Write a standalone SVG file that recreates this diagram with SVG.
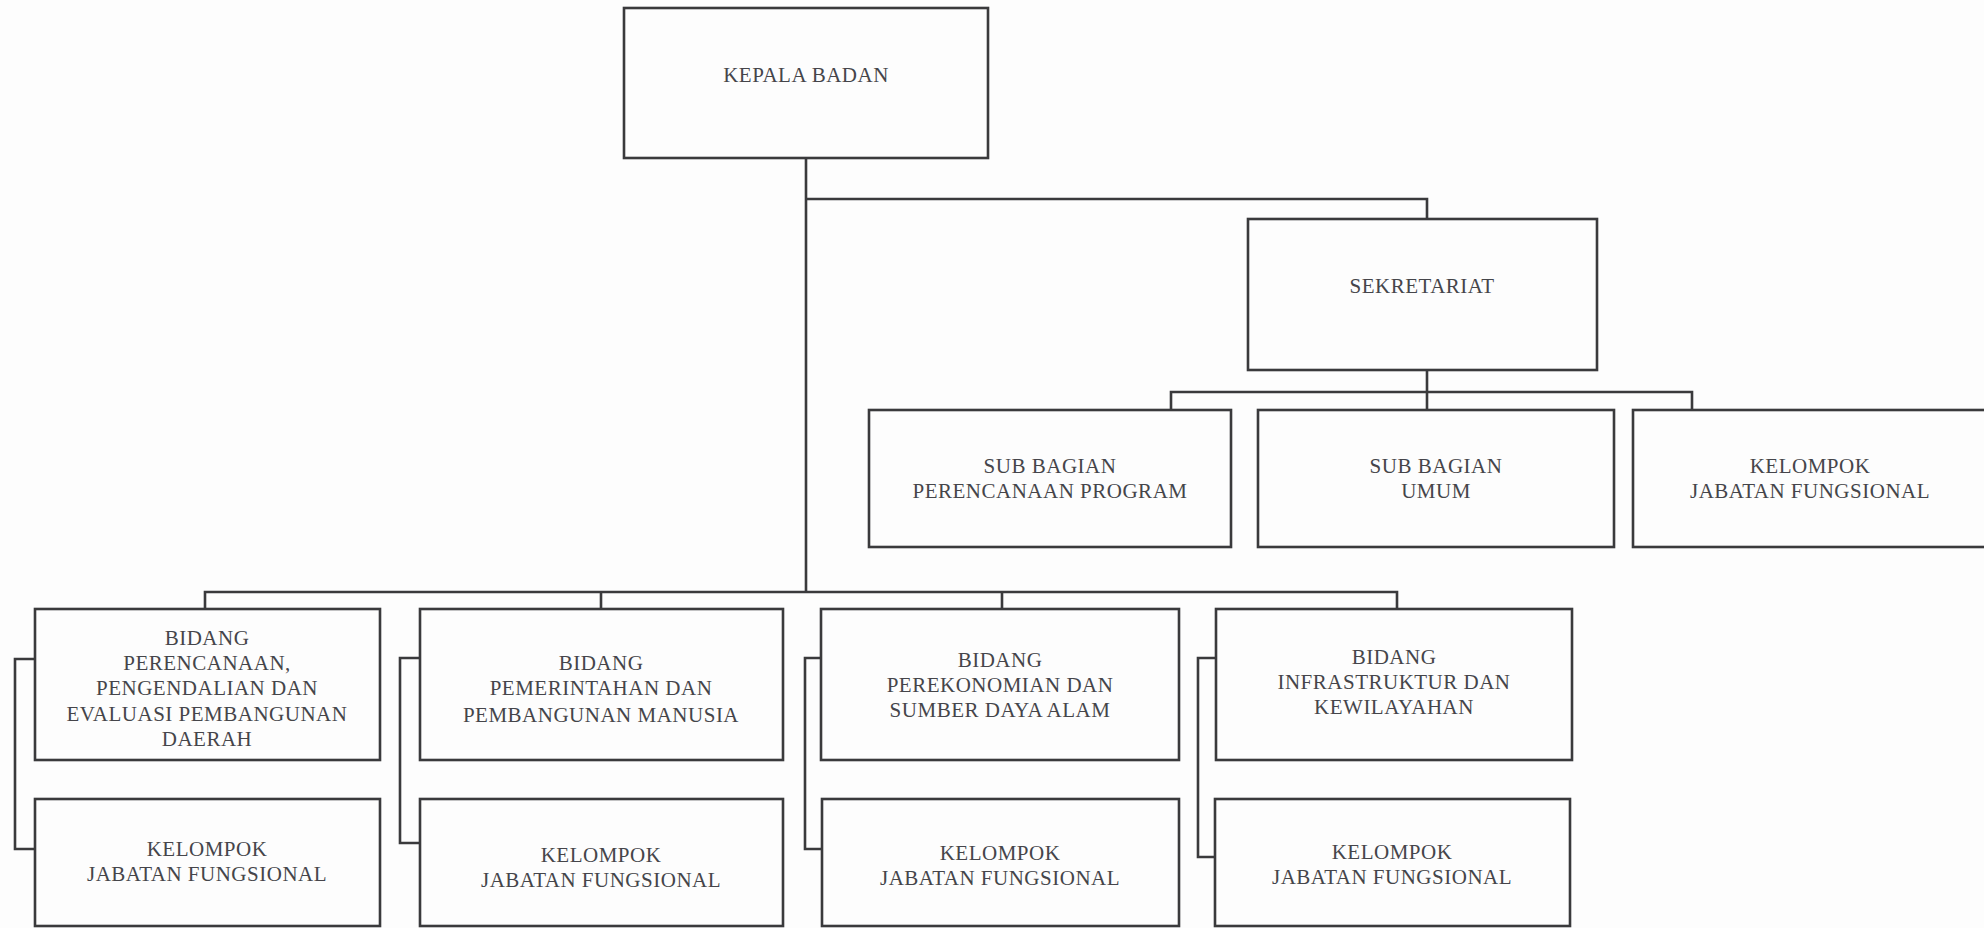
<svg xmlns="http://www.w3.org/2000/svg" width="1984" height="928" viewBox="0 0 1984 928">
<style>
.box{fill:none;stroke:#3a3a3c;stroke-width:2.6}
.ln{fill:none;stroke:#3a3a3c;stroke-width:2.6}
.t{font-family:"Liberation Serif","Times New Roman",serif;font-size:21px;letter-spacing:0.5px;fill:#45454a;text-anchor:middle}
</style>
<rect width="1984" height="928" fill="#fdfdfd"/>
<g id="connectors">
<path class="ln" d="M806 158 V592"/>
<path class="ln" d="M806 199 H1427 V219"/>
<path class="ln" d="M1427 370 V410 M1171 410 V392 H1692 V410"/>
<path class="ln" d="M205 609 V592 H1397 V609 M601 592 V609 M1002 592 V609"/>
<path class="ln" d="M35 659 H15 V849 H35"/>
<path class="ln" d="M420 658 H400 V843 H420"/>
<path class="ln" d="M822 658 H805 V849 H822"/>
<path class="ln" d="M1216 658 H1198 V857 H1215"/>
</g>
<g id="kepala-badan">
<rect class="box" x="624" y="8" width="364" height="150"/>
<text class="t" x="806" y="82">KEPALA BADAN</text>
</g>
<g id="sekretariat">
<rect class="box" x="1248" y="219" width="349" height="151"/>
<text class="t" x="1422" y="293">SEKRETARIAT</text>
</g>
<g id="sub-perencanaan">
<rect class="box" x="869" y="410" width="362" height="137"/>
<text class="t" x="1050" y="473">SUB BAGIAN</text>
<text class="t" x="1050" y="498">PERENCANAAN PROGRAM</text>
</g>
<g id="sub-umum">
<rect class="box" x="1258" y="410" width="356" height="137"/>
<text class="t" x="1436" y="473">SUB BAGIAN</text>
<text class="t" x="1436" y="498">UMUM</text>
</g>
<g id="sek-kelompok">
<rect class="box" x="1633" y="410" width="370" height="137"/>
<text class="t" x="1810" y="473">KELOMPOK</text>
<text class="t" x="1810" y="498">JABATAN FUNGSIONAL</text>
</g>
<g id="bidang-perencanaan">
<rect class="box" x="35" y="609" width="345" height="151"/>
<text class="t" x="207" y="645">BIDANG</text>
<text class="t" x="207" y="670">PERENCANAAN,</text>
<text class="t" x="207" y="695">PENGENDALIAN DAN</text>
<text class="t" x="207" y="721">EVALUASI PEMBANGUNAN</text>
<text class="t" x="207" y="746">DAERAH</text>
</g>
<g id="bidang-pemerintahan">
<rect class="box" x="420" y="609" width="363" height="151"/>
<text class="t" x="601" y="670">BIDANG</text>
<text class="t" x="601" y="695">PEMERINTAHAN DAN</text>
<text class="t" x="601" y="722">PEMBANGUNAN MANUSIA</text>
</g>
<g id="bidang-perekonomian">
<rect class="box" x="821" y="609" width="358" height="151"/>
<text class="t" x="1000" y="667">BIDANG</text>
<text class="t" x="1000" y="692">PEREKONOMIAN DAN</text>
<text class="t" x="1000" y="717">SUMBER DAYA ALAM</text>
</g>
<g id="bidang-infrastruktur">
<rect class="box" x="1216" y="609" width="356" height="151"/>
<text class="t" x="1394" y="664">BIDANG</text>
<text class="t" x="1394" y="689">INFRASTRUKTUR DAN</text>
<text class="t" x="1394" y="714">KEWILAYAHAN</text>
</g>
<g id="kelompok-a">
<rect class="box" x="35" y="799" width="345" height="127"/>
<text class="t" x="207" y="856">KELOMPOK</text>
<text class="t" x="207" y="881">JABATAN FUNGSIONAL</text>
</g>
<g id="kelompok-b">
<rect class="box" x="420" y="799" width="363" height="127"/>
<text class="t" x="601" y="862">KELOMPOK</text>
<text class="t" x="601" y="887">JABATAN FUNGSIONAL</text>
</g>
<g id="kelompok-c">
<rect class="box" x="822" y="799" width="357" height="127"/>
<text class="t" x="1000" y="860">KELOMPOK</text>
<text class="t" x="1000" y="885">JABATAN FUNGSIONAL</text>
</g>
<g id="kelompok-d">
<rect class="box" x="1215" y="799" width="355" height="127"/>
<text class="t" x="1392" y="859">KELOMPOK</text>
<text class="t" x="1392" y="884">JABATAN FUNGSIONAL</text>
</g>
</svg>
